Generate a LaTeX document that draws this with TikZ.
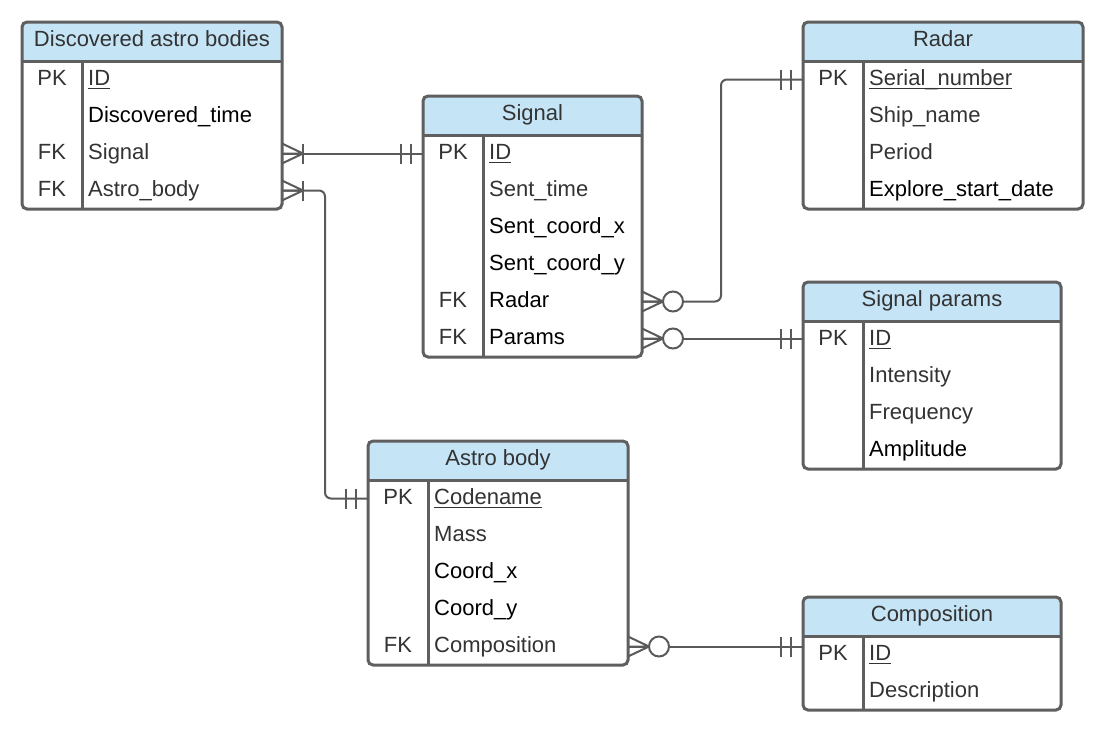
\documentclass[tikz,border=0pt]{standalone}
\usepackage{fontspec}
\setmainfont{Liberation Sans}
\usetikzlibrary{calc}
\definecolor{hdrfill}{HTML}{C5E4F6}
\definecolor{bord}{HTML}{5F5F5F}
\definecolor{connc}{HTML}{5A5A5A}
\definecolor{txtg}{HTML}{333333}
\tikzset{
  tabbox/.style={draw=bord, line width=3pt, rounded corners=5pt, inner sep=0pt, outer sep=0pt},
  tabline/.style={draw=bord, line width=3pt},
  hdrtxt/.style={anchor=base, inner sep=0pt, text=txtg, font=\fontsize{22}{26}\selectfont},
  keytxt/.style={anchor=base, inner sep=0pt, text=txtg, font=\fontsize{22}{26}\selectfont},
  fldtxt/.style={anchor=base west, inner sep=0pt, font=\fontsize{22}{26}\selectfont},
  ulin/.style={draw=txtg, line width=1.6pt},
  connl/.style={draw=connc, line width=2pt},
}
\newcommand\ertable[6]{%
  \expandafter\xdef\csname erx#1\endcsname{#2}%
  \expandafter\xdef\csname ery#1\endcsname{#3}%
  \pgfmathsetmacro\erh{39+37*#5}%
  \begin{scope}
    \clip[rounded corners=5pt] (#2,#3) rectangle ++(#4,\erh);
    \fill[hdrfill] (#2,#3) rectangle ++(#4,39);
  \end{scope}
  \draw[tabline] (#2,#3+39) -- ++(#4,0);
  \draw[tabline] (#2+60,#3+39) -- (#2+60,#3+\erh);
  \node[tabbox, minimum width=#4pt, minimum height=\erh pt, anchor=north west] (#1) at (#2,#3) {};
  \node[hdrtxt] (#1-title) at (#2+#4/2,#3+24) {#6};
}
\newcommand\errow[5]{%
  \edef\rx{\csname erx#1\endcsname}\edef\ry{\csname ery#1\endcsname}%
  \node[keytxt] (#1-k#2) at (\rx+30, \ry+39+37*#2-18.5+5.5) {#3};
  \node[fldtxt, text=#5] (#1-f#2) at (\rx+66, \ry+39+37*#2-18.5+5.5) {#4};
  \coordinate (#1-r#2) at (\rx, \ry+39+37*#2-18.5);
}
\newcommand\erul[1]{\draw[ulin] ([yshift=-3.5pt]#1.base west) -- ([yshift=-3.5pt]#1.base east);}
\newcommand\crowfoot[2]{\draw[connl] ($(#1)+(#2*21,0)$) -- ($(#1)+(0,-10)$) ($(#1)+(#2*21,0)$) -- (#1) ($(#1)+(#2*21,0)$) -- ($(#1)+(0,10)$);}
\newcommand\onebar[3]{\draw[connl] ($(#1)+(#2*#3,-10)$) -- ($(#1)+(#2*#3,10)$);}
\newcommand\zerocirc[2]{\draw[connl, fill=white] ($(#1)+(#2*31,0)$) circle[radius=10];}
\begin{document}
\begin{tikzpicture}[x=1pt,y=-1pt]
\useasboundingbox (0,0) rectangle (1103,731);
\fill[white] (0,0) rectangle (1103,731);

% Tables
\ertable{T1}{22}{22}{260}{4}{Discovered astro bodies}
\errow{T1}{1}{PK}{ID}{txtg}
\errow{T1}{2}{}{Discovered\_time}{black}
\errow{T1}{3}{FK}{Signal}{txtg}
\errow{T1}{4}{FK}{Astro\_body}{txtg}
\erul{T1-f1}

\ertable{T2}{423}{96}{219}{6}{Signal}
\errow{T2}{1}{PK}{ID}{txtg}
\errow{T2}{2}{}{Sent\_time}{txtg}
\errow{T2}{3}{}{Sent\_coord\_x}{black}
\errow{T2}{4}{}{Sent\_coord\_y}{black}
\errow{T2}{5}{FK}{Radar}{black}
\errow{T2}{6}{FK}{Params}{black}
\erul{T2-f1}

\ertable{T3}{803}{22}{280}{4}{Radar}
\errow{T3}{1}{PK}{Serial\_number}{txtg}
\errow{T3}{2}{}{Ship\_name}{txtg}
\errow{T3}{3}{}{Period}{txtg}
\errow{T3}{4}{}{Explore\_start\_date}{black}
\erul{T3-f1}

\ertable{T4}{803}{282}{258}{4}{Signal params}
\errow{T4}{1}{PK}{ID}{txtg}
\errow{T4}{2}{}{Intensity}{txtg}
\errow{T4}{3}{}{Frequency}{txtg}
\errow{T4}{4}{}{Amplitude}{black}
\erul{T4-f1}

\ertable{T5}{368}{441}{260}{5}{Astro body}
\errow{T5}{1}{PK}{Codename}{txtg}
\errow{T5}{2}{}{Mass}{txtg}
\errow{T5}{3}{}{Coord\_x}{black}
\errow{T5}{4}{}{Coord\_y}{black}
\errow{T5}{5}{FK}{Composition}{txtg}
\erul{T5-f1}

\ertable{T6}{803}{597}{258}{2}{Composition}
\errow{T6}{1}{PK}{ID}{txtg}
\errow{T6}{2}{}{Description}{txtg}
\erul{T6-f1}

% Connector endpoints
\coordinate (c1a) at (T1.east |- T1-r3);
\coordinate (c1b) at (T2.west |- T2-r1);
\coordinate (c2a) at (T1.east |- T1-r4);
\coordinate (c2b) at (T5.west |- T5-r1);
\coordinate (c3a) at (T2.east |- T2-r5);
\coordinate (c3b) at (T3.west |- T3-r1);
\coordinate (c4a) at (T2.east |- T2-r6);
\coordinate (c4b) at (T4.west |- T2-r6);
\coordinate (c5a) at (T5.east |- T5-r5);
\coordinate (c5b) at (T6.west |- T5-r5);

% Discovered.Signal -> Signal.ID
\draw[connl] (c1a) -- (c1b);
\crowfoot{c1a}{1}\onebar{c1a}{1}{21}
\onebar{c1b}{-1}{12}\onebar{c1b}{-1}{22}

% Discovered.Astro_body -> Astro body.Codename
\draw[connl, rounded corners=6pt] (c2a) -- ++(43,0) |- (c2b);
\crowfoot{c2a}{1}\onebar{c2a}{1}{21}
\onebar{c2b}{-1}{12}\onebar{c2b}{-1}{22}

% Signal.Radar -> Radar.Serial_number
\draw[connl, rounded corners=6pt] (c3a) -- ++(79,0) |- (c3b);
\crowfoot{c3a}{1}\zerocirc{c3a}{1}
\onebar{c3b}{-1}{12}\onebar{c3b}{-1}{22}

% Signal.Params -> Signal params.ID
\draw[connl] (c4a) -- (c4b);
\crowfoot{c4a}{1}\zerocirc{c4a}{1}
\onebar{c4b}{-1}{12}\onebar{c4b}{-1}{22}

% Astro body.Composition -> Composition.ID
\draw[connl] (c5a) -- (c5b);
\crowfoot{c5a}{1}\zerocirc{c5a}{1}
\onebar{c5b}{-1}{12}\onebar{c5b}{-1}{22}
\end{tikzpicture}
\end{document}
